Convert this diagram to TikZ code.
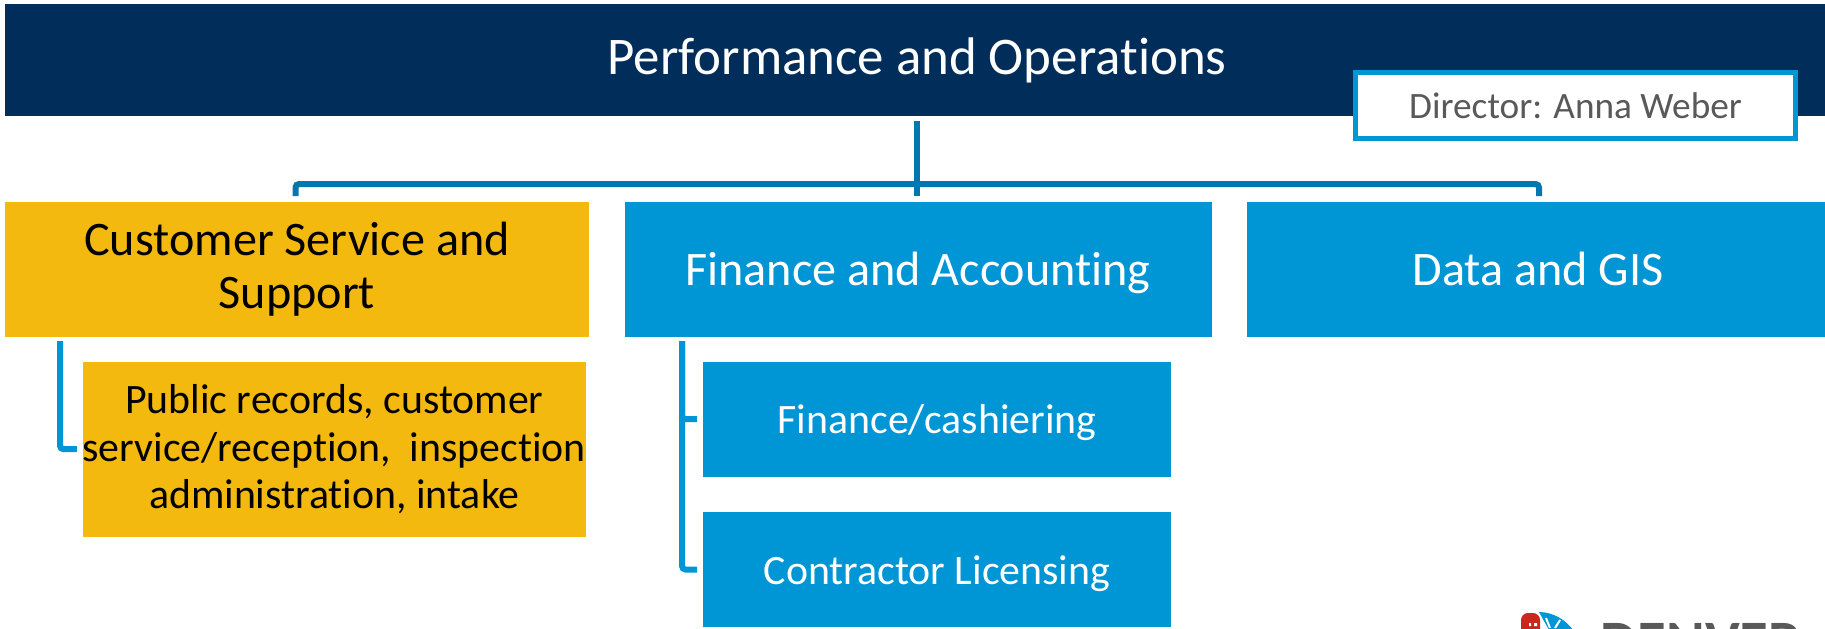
\documentclass[tikz,border=0pt]{standalone}
\usepackage{fontspec}
\setmainfont[Ligatures=NoCommon]{Carlito}
\usepackage{xcolor}
\definecolor{navybar}{HTML}{002D59}
\definecolor{skyblue}{HTML}{0096D6}
\definecolor{linkblue}{HTML}{0077AD}
\definecolor{goldbox}{HTML}{F3B90F}
\definecolor{textgray}{HTML}{595959}
\definecolor{logored}{HTML}{C8281E}
\newcommand{\titlefont}{\fontsize{15.05}{17}\selectfont}
\newcommand{\headfont}{\fontsize{13.7}{14.9}\selectfont}
\newcommand{\subfont}{\fontsize{11.9}{13.4}\selectfont}
\newcommand{\directorfont}{\fontsize{10.6}{12}\selectfont}
\tikzset{
    box/.style={rectangle, inner sep=0pt, align=center},
    headbox/.style={box, minimum height=1.35cm, font=\headfont},
    subbox/.style={box, minimum height=1.15cm, font=\subfont},
    headline/.style={text height=0.32cm, text depth=0pt},
    subline/.style={text height=0.29cm, text depth=0pt},
    trunk/.style={draw=linkblue, line width=0.06cm, rounded corners=1pt,
        shorten <=0.05cm, shorten >=0.05cm},
    branch/.style={draw=skyblue, line width=0.06cm, rounded corners=1pt,
        shorten <=0.05cm, shorten >=0.05cm}
}

\begin{document}
\begin{tikzpicture}
\useasboundingbox (0,0) rectangle (18.25,-6.28);

% Title bar
\node[box, minimum width=18.24cm, minimum height=1.125cm, fill=navybar, text height=0.29cm, text depth=0pt,
    text=white, font=\titlefont] (Title) at (9.17,-0.5975) {Performance and Operations};

% Director
\node[box, minimum width=4.40cm, minimum height=0.66cm, fill=white,
    draw=skyblue, line width=0.05cm, text=textgray, font=\directorfont] (Director) at (15.755,-1.055) {Director: Anna Weber};

% Departments
\node[headbox, minimum width=5.84cm, fill=goldbox, text=black] (Customer) at (2.97,-2.692) {Customer Service and\\Support};
\node[headbox, headline, minimum width=5.87cm, fill=skyblue, text=white] (Finance) at (9.18,-2.692) {Finance and Accounting};
\node[headbox, headline, minimum width=5.82cm, fill=skyblue, text=white] (Data) at (15.38,-2.692) {Data and GIS};

% Sub units
\node[subbox, minimum width=5.03cm, minimum height=1.75cm, fill=goldbox, text=black] (Records) at (3.343,-4.492) {Public records, customer\\service/reception, \ inspection\\administration, intake};
\node[subbox, subline, minimum width=4.685cm, fill=skyblue, text=white] (Cashier) at (9.37,-4.192) {Finance/cashiering};
\node[subbox, subline, minimum width=4.685cm, fill=skyblue, text=white] (Licensing) at (9.37,-5.695) {Contractor Licensing};

% Connect title to departments
\coordinate (BusLeft) at (2.955,-1.84);
\coordinate (BusRight) at (15.39,-1.84);
\coordinate (TrunkTop) at (9.17,-1.16);
\draw[trunk] (TrunkTop) -- (TrunkTop |- Finance.north);
\draw[trunk] (BusLeft |- Customer.north) |- (BusRight) -- (BusRight |- Data.north);

% Connect departments to sub units
\coordinate (CustomerDrop) at (0.60,-3.36);
\coordinate (FinanceDrop) at (6.82,-3.36);
\draw[branch] (CustomerDrop) |- (Records.west);
\foreach \unit in {Cashier,Licensing}
{
    \draw[branch] (FinanceDrop) |- (\unit.west);
}

% Logo, cut by the page edge
\begin{scope}
\clip (0,0) rectangle (18.25,-6.28);
\fill[logored, rounded corners=2pt] (15.21,-6.40) -- (15.21,-6.13) -- (15.40,-6.13) -- (15.40,-6.40) -- cycle;
\fill[white] (15.29,-6.23) rectangle (15.31,-6.26) (15.34,-6.23) rectangle (15.37,-6.26);
\fill[skyblue] (15.39,-6.12) .. controls (15.53,-6.12) and (15.66,-6.20) .. (15.73,-6.30) -- (15.49,-6.30) -- cycle;
\draw[white, line width=0.02cm] (15.50,-6.28) -- (15.46,-6.18) (15.55,-6.28) -- (15.60,-6.20);
\node[text=textgray, anchor=base west, inner sep=0pt, font=\fontsize{16.7}{17}\selectfont\bfseries] (Logo) at (16.00,-6.61) {DENVER};
\end{scope}

\end{tikzpicture}
\end{document}
